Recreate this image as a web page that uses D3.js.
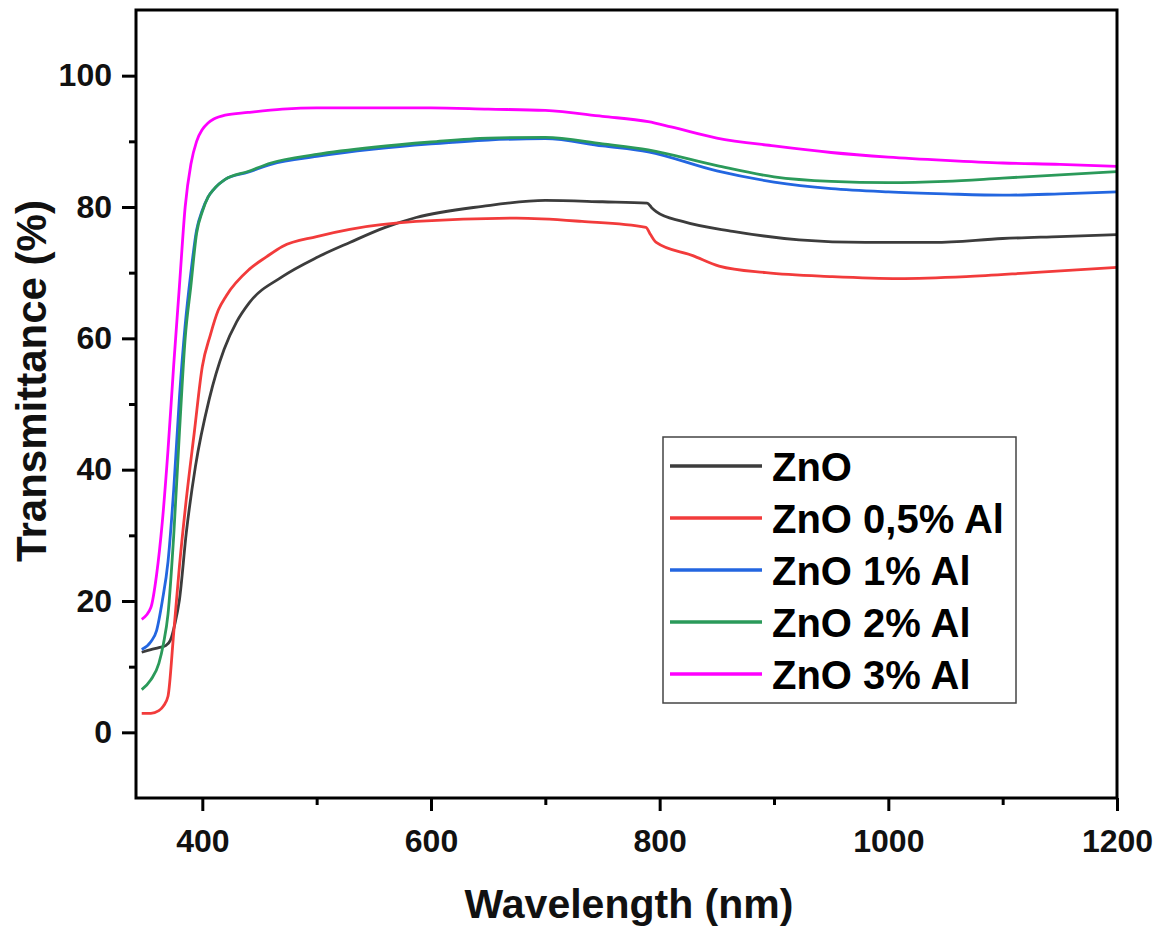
<!DOCTYPE html>
<html lang="en">
<head>
    <meta charset="utf-8">
    <title>Transmittance of ZnO films</title>
    <script src="https://cdn.jsdelivr.net/npm/d3@7"></script>
    <style type="text/css">
        body { margin: 0; background: #fff; }
        text { font-family: Arial, "Liberation Sans", sans-serif; font-weight: bold; }
    </style>
</head>
<body>
<script type="text/javascript">

    // wavelength (nm) and transmittance (%)
    var znoWl = [347, 355, 362, 368, 372, 376, 380, 386, 394, 406, 419, 430, 441, 470, 500, 529, 560, 587, 645, 700, 750, 789, 793, 797, 820, 864, 922, 980, 1040, 1100, 1150, 1200];
    var znoT  = [12.2, 12.6, 12.9, 13.2, 14.0, 16.5, 20.2, 30.4, 40.5, 50.7, 58.3, 62.5, 65.4, 69.4, 72.3, 74.6, 76.9, 78.4, 80.1, 81.0, 80.8, 80.6, 79.9, 79.3, 77.8, 76.3, 75.0, 74.6, 74.6, 75.2, 75.5, 75.8];

    var al05Wl = [347, 355, 362, 366, 370, 375, 380, 386, 393, 400, 407, 414, 421, 441, 456, 470, 500, 529, 587, 675, 732, 788, 792, 797, 829, 852, 893, 951, 1009, 1068, 1126, 1200];
    var al05T  = [2.9, 2.9, 3.3, 4.0, 5.5, 15.2, 25.3, 35.5, 45.7, 55.7, 60.5, 64.3, 66.5, 70.5, 72.4, 74.0, 75.5, 76.6, 77.8, 78.3, 77.8, 76.9, 75.8, 74.6, 72.6, 71.0, 70.0, 69.4, 69.1, 69.4, 70.0, 70.8];

    var al1Wl = [347, 355, 360, 365, 370, 375, 380, 385, 390, 395, 400, 405, 410, 420, 440, 460, 500, 550, 600, 650, 700, 750, 790, 850, 900, 950, 1000, 1050, 1100, 1150, 1200];
    var al1T  = [12.6, 13.8, 15.5, 20.0, 26.0, 37.0, 51.0, 62.0, 70.0, 76.5, 79.5, 81.5, 82.7, 84.2, 85.3, 86.5, 87.7, 88.8, 89.6, 90.2, 90.4, 89.3, 88.4, 85.5, 83.8, 82.8, 82.3, 82.0, 81.8, 82.0, 82.3];

    var al2Wl = [347, 355, 362, 366, 370, 375, 380, 385, 390, 395, 400, 405, 410, 420, 440, 460, 500, 550, 600, 650, 700, 750, 790, 850, 900, 950, 1000, 1050, 1100, 1150, 1200];
    var al2T  = [6.5, 8.0, 10.5, 13.5, 18.0, 30.0, 45.7, 60.0, 68.0, 76.0, 79.3, 81.5, 82.7, 84.2, 85.4, 86.7, 88.0, 89.1, 89.9, 90.5, 90.6, 89.6, 88.7, 86.3, 84.6, 83.9, 83.7, 83.9, 84.4, 84.9, 85.4];

    var al3Wl = [347, 355, 360, 365, 370, 375, 380, 385, 390, 395, 400, 405, 410, 420, 440, 470, 500, 550, 600, 650, 700, 750, 790, 810, 850, 900, 950, 1000, 1050, 1100, 1150, 1200];
    var al3T  = [17.2, 19.0, 24.0, 32.0, 43.0, 56.0, 68.0, 80.0, 86.5, 90.0, 91.8, 92.8, 93.4, 94.0, 94.4, 94.9, 95.1, 95.1, 95.1, 94.9, 94.7, 93.8, 93.0, 92.2, 90.5, 89.3, 88.3, 87.6, 87.1, 86.7, 86.5, 86.2];

    var seriesNames  = ["ZnO", "ZnO 0,5% Al", "ZnO 1% Al", "ZnO 2% Al", "ZnO 3% Al"];
    var seriesColors = ["#3c3c3c", "#f23b3b", "#2366e0", "#2b9a5a", "#ff00ff"];
    var xTicks = [400, 600, 800, 1000, 1200];
    var xMinorTicks = [500, 700, 900, 1100];
    var yTicks = [0, 20, 40, 60, 80, 100];
    var yMinorTicks = [10, 30, 50, 70, 90];

    var series = [
        { wl: znoWl, t: znoT },
        { wl: al05Wl, t: al05T },
        { wl: al1Wl, t: al1T },
        { wl: al2Wl, t: al2T },
        { wl: al3Wl, t: al3T }
    ];

    var width = 1160, height = 928;
    var plotLeft = 136, plotRight = 1117, plotTop = 10, plotBottom = 798;

    var svg = d3.select("body").append("svg")
        .attr("width", width)
        .attr("height", height);

    var x = d3.scaleLinear().domain([342, 1200]).range([plotLeft, plotRight]);
    var y = d3.scaleLinear().domain([-10, 110]).range([plotBottom, plotTop]);

    var line = d3.line()
        .x(function (d) { return x(d[0]); })
        .y(function (d) { return y(d[1]); })
        .curve(d3.curveMonotoneX);

    series.forEach(function (s, i) {
        var pts = s.wl.map(function (w, k) { return [w, s.t[k]]; });
        svg.append("path")
            .datum(pts)
            .attr("fill", "none")
            .attr("stroke", seriesColors[i])
            .attr("stroke-width", 2.8)
            .attr("stroke-linejoin", "round")
            .attr("d", line);
    });

    // frame
    svg.append("rect")
        .attr("x", plotLeft).attr("y", plotTop)
        .attr("width", plotRight - plotLeft).attr("height", plotBottom - plotTop)
        .attr("fill", "none")
        .attr("stroke", "#000")
        .attr("stroke-width", 3);

    svg.append("g")
        .attr("transform", "translate(0," + plotBottom + ")")
        .call(d3.axisBottom(x).tickValues(xTicks).tickFormat(d3.format("d"))
            .tickSize(13).tickSizeOuter(0).tickPadding(18));
    svg.append("g")
        .attr("transform", "translate(0," + plotBottom + ")")
        .call(d3.axisBottom(x).tickValues(xMinorTicks).tickSize(7).tickSizeOuter(0).tickFormat(""));

    svg.append("g")
        .attr("transform", "translate(" + plotLeft + ",0)")
        .call(d3.axisLeft(y).tickValues(yTicks).tickFormat(d3.format("d"))
            .tickSize(14).tickSizeOuter(0).tickPadding(10));
    svg.append("g")
        .attr("transform", "translate(" + plotLeft + ",0)")
        .call(d3.axisLeft(y).tickValues(yMinorTicks).tickSize(7).tickSizeOuter(0).tickFormat(""));

    svg.selectAll(".domain").remove();
    svg.selectAll(".tick line").attr("stroke", "#000").attr("stroke-width", 3);
    svg.selectAll(".tick text")
        .attr("fill", "#111")
        .attr("font-size", "32px")
        .attr("font-family", "Arial, 'Liberation Sans', sans-serif")
        .attr("font-weight", "bold");

    // axis titles
    svg.append("text")
        .attr("x", 629)
        .attr("y", 918)
        .attr("text-anchor", "middle")
        .attr("font-size", "41px")
        .attr("fill", "#111")
        .text("Wavelength (nm)");

    svg.append("text")
        .attr("transform", "translate(46,381) rotate(-90)")
        .attr("text-anchor", "middle")
        .attr("font-size", "42px")
        .attr("fill", "#111")
        .text("Transmittance (%)");

    // legend
    var legend = svg.append("g");
    legend.append("rect")
        .attr("x", 663).attr("y", 437)
        .attr("width", 353).attr("height", 266)
        .attr("fill", "#fff")
        .attr("stroke", "#444")
        .attr("stroke-width", 1.5);

    seriesNames.forEach(function (name, i) {
        var cy = 466 + i * 52;
        legend.append("line")
            .attr("x1", 670).attr("x2", 762)
            .attr("y1", cy).attr("y2", cy)
            .attr("stroke", seriesColors[i])
            .attr("stroke-width", 3.5);
        legend.append("text")
            .attr("x", 772)
            .attr("y", cy + 15)
            .attr("font-size", "40px")
            .attr("fill", "#000")
            .text(name);
    });

</script>
</body>
</html>
